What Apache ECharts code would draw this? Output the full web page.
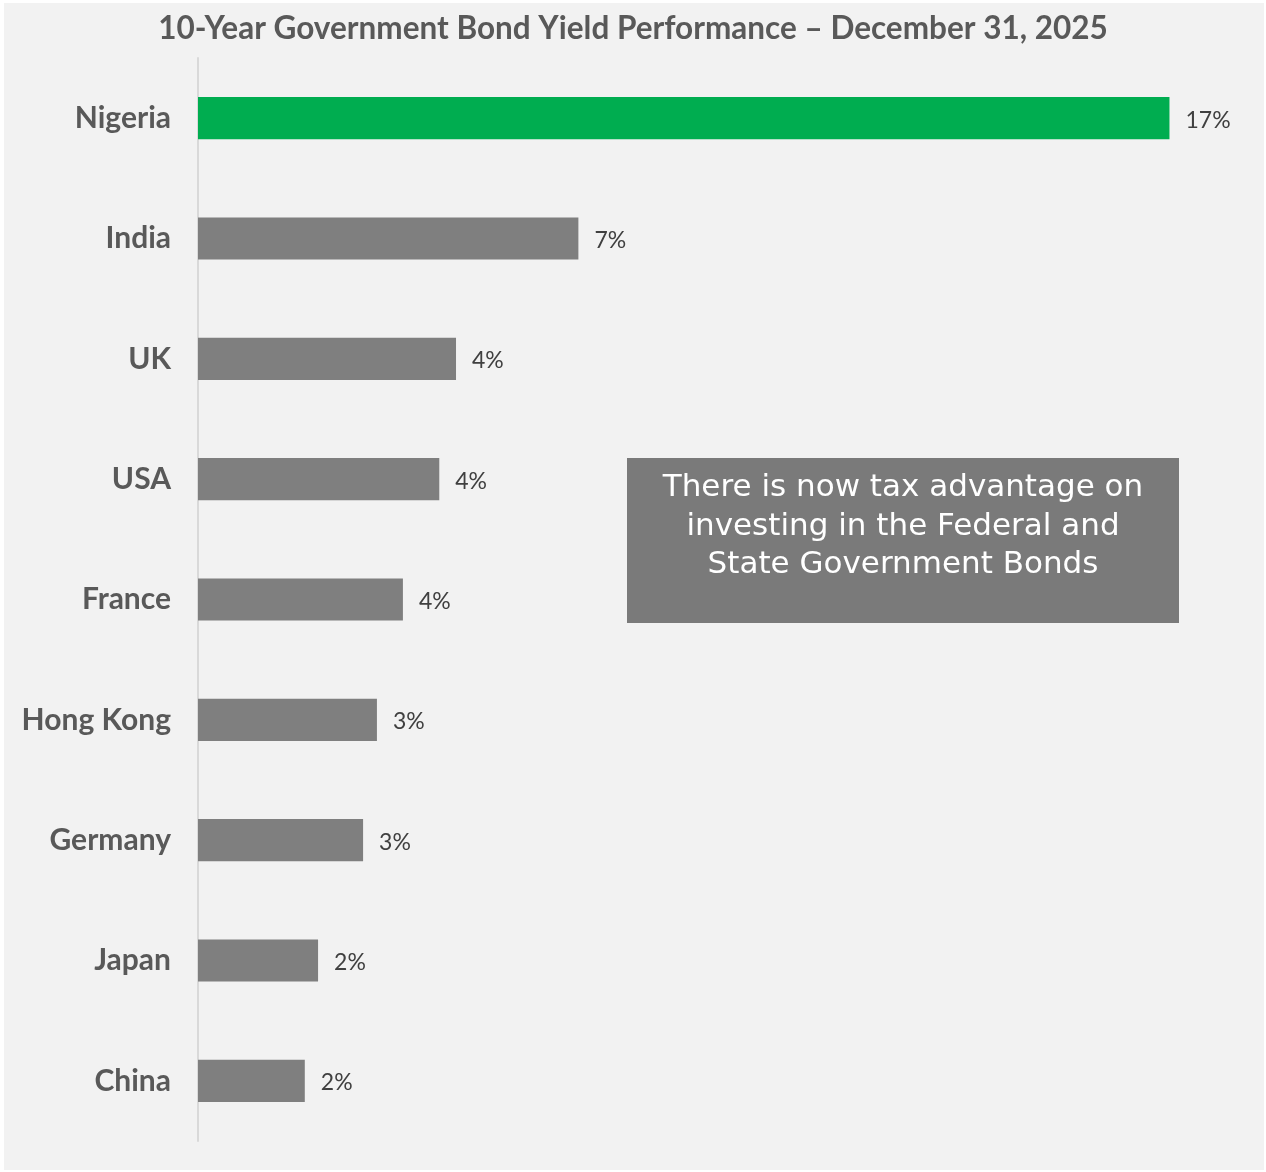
<!DOCTYPE html>
<html>
<head>
<meta charset="utf-8">
<script src="https://cdn.jsdelivr.net/npm/echarts@6/dist/echarts.min.js"></script>
<style>
  html, body { margin: 0; padding: 0; background: #ffffff; }
  #chart { width: 1266px; height: 1172px; }
</style>
</head>
<body>
<div id="chart"></div>
<script>
// 10-year government bond yields (%), Dec 31, 2025
const countries = ['Nigeria', 'India', 'UK', 'USA', 'France', 'Hong Kong', 'Germany', 'Japan', 'China'];
const yields = [16.83, 6.59, 4.47, 4.18, 3.55, 3.10, 2.86, 2.08, 1.85];
const highlight = 'Nigeria';
const titleText = '10-Year Government Bond Yield Performance \u2013 December 31, 2025';
const noteLines = ['There is now tax advantage on', 'investing in the Federal and', 'State Government Bonds'];

const FONT = 'Lato, "Open Sans", sans-serif';
const chart = echarts.init(document.getElementById('chart'), null, { renderer: 'canvas' });

chart.setOption({
  backgroundColor: '#ffffff',
  animation: false,
  title: {
    text: titleText,
    left: 'center',
    top: 8,
    textStyle: { fontFamily: FONT, fontSize: 31.5, fontWeight: 'bold', color: '#595959' }
  },
  graphic: [
    {
      type: 'rect', z: -10, silent: true,
      shape: { x: 4, y: 3, width: 1260, height: 1167 },
      style: { fill: '#f2f2f2' }
    },
    {
      type: 'rect', z: 10, silent: true,
      shape: { x: 627, y: 458, width: 552, height: 165 },
      style: { fill: '#7a7a7a' }
    },
    {
      type: 'text', z: 11, silent: true,
      x: 903, y: 469,
      style: {
        text: noteLines.join('\n'),
        fill: '#ffffff',
        font: '31px "DejaVu Sans", sans-serif',
        lineHeight: 38.5,
        align: 'center',
        verticalAlign: 'top'
      }
    }
  ],
  grid: { left: 198, right: 29, top: 58, bottom: 31, containLabel: false },
  xAxis: {
    type: 'value',
    min: 0,
    max: 18,
    show: false
  },
  yAxis: {
    type: 'category',
    inverse: true,
    data: countries,
    axisLine: { show: true, lineStyle: { color: '#d9d9d9', width: 2 } },
    axisTick: { show: false },
    axisLabel: {
      margin: 27,
      fontFamily: FONT,
      fontSize: 30,
      fontWeight: 'bold',
      color: '#595959'
    }
  },
  series: [{
    type: 'bar',
    barWidth: '35%',
    data: yields.map((v, i) => ({
      value: v,
      itemStyle: { color: countries[i] === highlight ? '#00ad50' : '#7f7f7f' }
    })),
    label: {
      show: true,
      position: 'right',
      distance: 16,
      offset: [0, 2],
      fontFamily: FONT,
      fontSize: 23,
      color: '#404040',
      formatter: p => Math.round(p.value) + '%'
    }
  }]
});
</script>
</body>
</html>
